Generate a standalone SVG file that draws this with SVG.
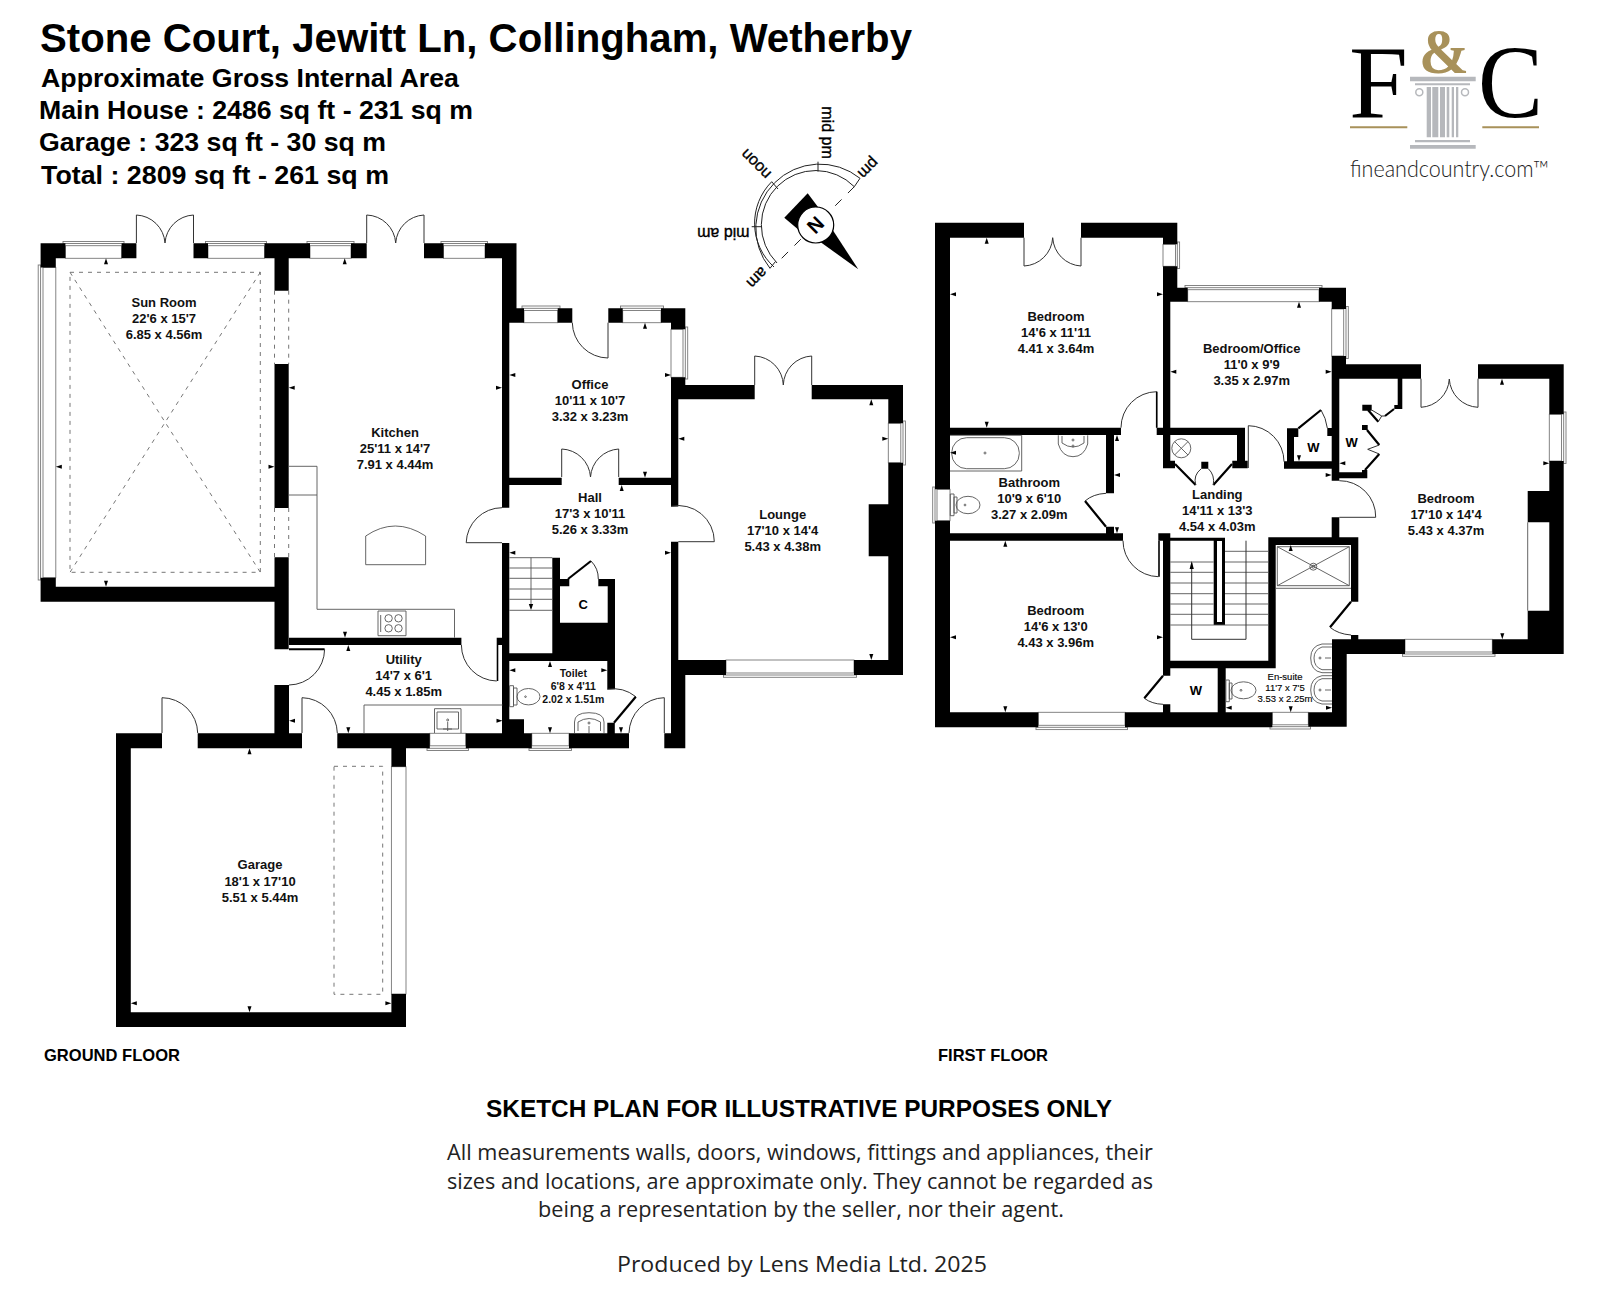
<svg xmlns="http://www.w3.org/2000/svg" width="1600" height="1297" viewBox="0 0 1600 1297">
<style>
text{font-family:"Liberation Sans",Arial,sans-serif;fill:#000}
.h{font-weight:700}
.r{font-size:13px;font-weight:700;text-anchor:middle;fill:#111}
.s{font-size:10.5px;font-weight:700;text-anchor:middle;fill:#111}
.e{font-size:9.5px;font-weight:400;text-anchor:middle;stroke:#111;stroke-width:.15}
.w{font-size:13px;font-weight:700;text-anchor:middle}
.b{font-family:"Open Sans","Noto Sans",sans-serif;font-size:22px;text-anchor:middle;fill:#222}
.c{font-size:16px;text-anchor:middle;stroke:#000;stroke-width:.35}
.wall{fill:#000}
.d{fill:none;stroke:#333;stroke-width:1}
.dk{fill:none;stroke:#000;stroke-width:2.2}
.f{fill:none;stroke:#555;stroke-width:.9}
.dash{fill:none;stroke:#666;stroke-width:.9;stroke-dasharray:4 5}
.win{fill:#fff;stroke:#777;stroke-width:.9}
.t{fill:#000}
.lg{fill:#b6b8bc}
.g{fill:#a8915a}
</style>
<defs>
<path id="tU" class="t" d="M0 0L-2 6H2Z"/>
<path id="tD" class="t" d="M0 0L-2 -6H2Z"/>
<path id="tL" class="t" d="M0 0L6 -2V2Z"/>
<path id="tR" class="t" d="M0 0L-6 -2V2Z"/>
</defs>
<rect width="1600" height="1297" fill="#fff"/>

<g id="heading">
<text class="h" x="40" y="52" font-size="40" textLength="872" lengthAdjust="spacingAndGlyphs">Stone Court, Jewitt Ln, Collingham, Wetherby</text>
<text class="h" x="41" y="87" font-size="26" textLength="418" lengthAdjust="spacingAndGlyphs">Approximate Gross Internal Area</text>
<text class="h" x="39" y="119" font-size="26" textLength="434" lengthAdjust="spacingAndGlyphs">Main House : 2486 sq ft - 231 sq m</text>
<text class="h" x="39" y="151" font-size="26" textLength="347" lengthAdjust="spacingAndGlyphs">Garage : 323 sq ft - 30 sq m</text>
<text class="h" x="41" y="184" font-size="26" textLength="348" lengthAdjust="spacingAndGlyphs">Total : 2809 sq ft - 261 sq m</text>
</g>

<g id="logo">
<text x="1349" y="117" font-size="104" style="font-family:'Liberation Serif',serif" textLength="59" lengthAdjust="spacingAndGlyphs">F</text>
<text x="1478" y="117" font-size="104" style="font-family:'Liberation Serif',serif" textLength="65" lengthAdjust="spacingAndGlyphs">C</text>
<text x="1419" y="73" font-size="64" font-weight="700" style="font-family:'Liberation Serif',serif;fill:#a8915a" textLength="50" lengthAdjust="spacingAndGlyphs">&amp;</text>
<path class="lg" d="M1410 76.7H1475.7V81.3H1410ZM1415 83.3H1470V85.3H1415ZM1426.7 87H1431V137.3H1426.7ZM1432.3 87H1438.3V137.3H1432.3ZM1440 87H1445V137.3H1440ZM1446.7 87H1449.3V137.3H1446.7ZM1451.7 87H1454V137.3H1451.7ZM1456 87H1458.3V137.3H1456ZM1415 140H1470V142.3H1415ZM1410 145H1475.7V148.7H1410Z"/>
<circle cx="1419.3" cy="92.3" r="3.5" fill="none" stroke="#b6b8bc" stroke-width="1.5"/>
<circle cx="1465" cy="92.3" r="3.5" fill="none" stroke="#b6b8bc" stroke-width="1.5"/>
<path class="g" d="M1350 126.3H1407.3V128.3H1350ZM1482.3 126.3H1539V128.3H1482.3Z"/>
<text x="1350" y="177" font-size="23" font-weight="300" style="font-family:Lato,sans-serif;fill:#222" textLength="199" lengthAdjust="spacingAndGlyphs">fineandcountry.com™</text>
</g>

<g id="compass">
<path d="M860 178.3A64 64 0 0 0 770 268.3L775.5 261.5M854.3 186.7A54 54 0 0 0 777 263" fill="none" stroke="#222" stroke-width="1"/>
<path d="M771.7 181.7A59 59 0 0 0 774 267" fill="none" stroke="#222" stroke-width="1"/>
<path d="M860 178.3L854.3 186.7M818 161.7V171.5M751.7 226.7H762M771.7 181.7L778 189" fill="none" stroke="#222" stroke-width="1"/>
<path d="M854.3 186.7L832 209M781.7 258.3L802 238" fill="none" stroke="#222" stroke-width="1" stroke-dasharray="9 9"/>
<path class="t" d="M784.3 217.7L807.7 193.3L821 211L800 231Z"/>
<path class="t" d="M832.7 230L820 241.7L858.3 269.3Z"/>
<circle cx="815.7" cy="225" r="18" fill="#fff" stroke="#000" stroke-width="1.2"/>
<text x="815.7" y="225" font-size="20" font-weight="700" text-anchor="middle" transform="rotate(135 815.7 225) translate(0 7)">N</text>
<text class="c" transform="translate(826.5 132.5) rotate(90) translate(0 5)">mid pm</text>
<text class="c" transform="translate(868.3 168) rotate(135) translate(0 5)">pm</text>
<text class="c" transform="translate(756 164) rotate(225) translate(0 5)">noon</text>
<text class="c" transform="translate(723.3 232.7) rotate(180) translate(0 5)">mid am</text>
<text class="c" transform="translate(757 277.5) rotate(135) translate(0 5)">am</text>
</g>

<g id="ground-floor">
<g id="gf-windows">
<rect class="win" x="63" y="241.5" width="61" height="2"/><rect class="win" x="65.4" y="245.7" width="56.2" height="12.6"/>
<rect class="win" x="205.5" y="241.5" width="61" height="2"/><rect class="win" x="208" y="245.7" width="56.5" height="12.6"/>
<rect class="win" x="307" y="241.5" width="47" height="2"/><rect class="win" x="310" y="245.7" width="41" height="12.6"/>
<rect class="win" x="441" y="241.5" width="46.5" height="2"/><rect class="win" x="443.5" y="245.7" width="41.5" height="12.6"/>
<rect class="win" x="38.2" y="265" width="2.4" height="315"/><rect class="win" x="43" y="267.5" width="12.8" height="310.2"/>
<rect class="win" x="522" y="306" width="38" height="2.3"/><rect class="win" x="524" y="310.5" width="33.7" height="12.2"/>
<rect class="win" x="620.5" y="306" width="43" height="2.3"/><rect class="win" x="622.7" y="310.5" width="38.3" height="12.2"/>
<rect class="win" x="685.3" y="327" width="2.4" height="52"/><rect class="win" x="671" y="329.3" width="12" height="48"/>
<rect class="win" x="903" y="421" width="2.4" height="44"/><rect class="win" x="888.3" y="423.3" width="12.5" height="39.4"/>
<rect class="win" x="723.5" y="675" width="133" height="2.3"/><rect class="win" x="726" y="660" width="128" height="13"/>
<rect class="win" x="427" y="748.3" width="41.5" height="2.2"/><rect class="win" x="429.8" y="733.3" width="36" height="12.5"/>
<rect class="win" x="529" y="748.3" width="42.5" height="2.2"/><rect class="win" x="531.8" y="733.3" width="37.2" height="12.5"/>
<rect class="win" x="391.4" y="766.7" width="14.6" height="227.3"/>
</g>
<path class="wall" d="M40.6 243.3H65.4V258.3H55.8V267.5H40.6ZM121.6 243.3H136.4V258.3H121.6ZM193.5 243.3H208V258.3H193.5ZM264.5 243.3H310V258.3H264.5ZM351 243.3H366.7V258.3H351ZM424 243.3H443.5V258.3H424ZM485 243.3H516.5V308.3H524V322.7H509.3V507.7H502V258.3H485ZM557.7 308.3H572.3V322.7H557.7ZM608.3 308.3H622.7V322.7H608.3ZM661 308.3H685.3V329.3H671V322.7H661ZM671 377.3H685.3V385H754.7V399.3H678.3V506.5H671ZM811.7 385H903V423.3H888.3V399.3H811.7ZM888.3 462.7H903V675H854V660H888.3V556.3H868.7V504.3H888.3ZM671 541.7H678.3V660H726V675H685.3V748.3H664.3V733.3H671ZM509.3 477.7H561.7V485H509.3ZM618.7 477.7H671V485H618.7ZM502 543H509.3V733.3H502ZM552.3 557.7H560V579H569.3V586.3H560V622.7H607.7V586.3H598.3V579H615V689.3H607.3V661H509.3V653.3H552.3ZM289 637.7H461.4V645H289ZM496.7 637.7H502V645H496.7ZM40.6 577.7H55.8V586.7H274.5V557.3H288.7V649.3H274.5V601.7H40.6ZM274.5 243.3H288.7V290.7H274.5ZM274.5 364H288.7V508H274.5ZM274.4 685H289V733.3H274.4ZM116 733.3H162V748.3H130.8V1012.3H391.4V994H406V1027H116ZM197.7 733.3H302V748.3H197.7ZM337.3 733.3H429.8V748.3H406V766.7H391.4V748.3H337.3ZM465.8 733.3H531.8V748.3H465.8ZM569 733.3H629V748.3H569ZM502.5 719.3H524V733.3H502.5ZM607.3 722.7H614.8V733.3H607.3Z"/>
<g id="gf-doors">
<path class="d" d="M136.4 243V215A30 30 0 0 1 165 243A30 30 0 0 1 193.5 215V243"/>
<path class="d" d="M366.7 243V215A30 30 0 0 1 395.7 243A30 30 0 0 1 424 215V243"/>
<path class="d" d="M608 322.7V358A36 36 0 0 1 572.3 322.7"/>
<path class="d" d="M754.7 385V356A30 30 0 0 1 783.3 385A30 30 0 0 1 811.7 356V385"/>
<path class="d" d="M561.7 477V449A30 30 0 0 1 590.5 477A30 30 0 0 1 618.7 449V477"/>
<path class="d" d="M502 507.7A36 36 0 0 0 466.2 542.7H502"/>
<path class="d" d="M671 506.3A36 36 0 0 1 714.3 541.7H678.3"/>
<path class="d" d="M461.4 645A36 36 0 0 0 496.7 681"/>
<path class="dk" style="stroke-width:1.6" d="M497.5 645V681"/>
<path class="dk" style="stroke-width:2" d="M289 649.3H324.6"/>
<path class="d" d="M324.6 649.3A36 36 0 0 1 289 685"/>
<path class="d" d="M302 733V697.7A36 36 0 0 1 337.3 733"/>
<path class="d" d="M162 733V697.7A36 36 0 0 1 197.7 733"/>
<path class="d" d="M664.3 733V697.7A36 36 0 0 0 629 733"/>
<path class="d" d="M607.3 689.3A36 36 0 0 1 635.8 696.7"/>
<path class="dk" d="M635.8 696.7L614 722.7"/>
<path class="dk" d="M568 579L591 561"/>
<path class="d" d="M591 561A25 25 0 0 1 598.3 579"/>
</g>
<g id="gf-fittings">
<path class="dash" d="M70 272.3H260.3V572.3H70ZM70 272.3L260.3 572.3M260.3 272.3L70 572.3"/>
<path class="dash" d="M274.5 290.7V364M288.7 290.7V364M274.5 508V557.3M288.7 508V557.3"/>
<path class="dash" d="M334 766.3H382.7V994.3H334Z"/>
<path class="f" d="M288.7 466.3H317V609.3H454.5V637.7M288.7 495H317"/>
<path class="f" d="M365.7 564.7V536Q395 516 425.6 536V564.7Z"/>
<path class="f" d="M378 611H406V635.7H378Z"/>
<circle class="f" cx="388.6" cy="618.3" r="3.7"/><circle class="f" cx="398.5" cy="618.3" r="3.7"/><circle class="f" cx="388.6" cy="628.3" r="3.7"/><circle class="f" cx="398.5" cy="628.3" r="3.7"/>
<path class="f" d="M380.7 615V632"/>
<path class="f" d="M364 733.3V705H502.5"/>
<path class="f" d="M434.5 733V708.7H461V733M437 712H458.5V729H437Z"/>
<circle class="f" cx="447.7" cy="720" r="1"/>
<path class="f" d="M447.7 722V731M443 729H452"/>
<path class="f" d="M509.6 685.7H513.5V706.7H509.6ZM513.5 688H517V705H513.5Z"/>
<ellipse class="f" cx="528.5" cy="696.7" rx="11.5" ry="8.2"/>
<circle class="f" cx="525.5" cy="696.7" r=".8"/>
<path class="f" d="M574.5 733V722Q574.5 712.7 589 712.7Q604 712.7 604 722V733M578 731V722Q589 715 600.5 722V731"/>
<circle class="f" cx="589" cy="723" r="1"/>
<path class="f" d="M589 726V733"/>
<path class="f" d="M509.3 568H552.3M509.3 578.3H552.3M509.3 589H552.3M509.3 599.3H552.3M509.3 610.3H552.3M509.3 557.7H552.3M531 557.7V608"/>
<path class="t" d="M531 610L528.8 604H533.2Z"/>
</g>
<g id="gf-ticks">
<use href="#tU" x="106" y="258.3"/><use href="#tU" x="344.7" y="258.3"/><use href="#tL" x="55.8" y="466.7"/><use href="#tR" x="274.5" y="466.7"/><use href="#tD" x="106" y="586.7"/><use href="#tL" x="288.7" y="387.7"/><use href="#tR" x="502" y="387.7"/>
<use href="#tL" x="509.3" y="375"/><use href="#tR" x="671" y="375"/><use href="#tU" x="645" y="322.7"/><use href="#tD" x="645" y="477.7"/><use href="#tU" x="621.7" y="485"/><use href="#tL" x="509.3" y="552.7"/><use href="#tR" x="671" y="552.7"/>
<use href="#tL" x="678.3" y="438.7"/><use href="#tR" x="888.3" y="438.7"/><use href="#tU" x="871.3" y="399.3"/><use href="#tD" x="871.3" y="660"/>
<use href="#tD" x="345" y="637.7"/><use href="#tU" x="348.3" y="645"/><use href="#tL" x="289" y="720.7"/><use href="#tR" x="502.5" y="720.7"/><use href="#tD" x="348.3" y="733.3"/>
<use href="#tU" x="550" y="661"/><use href="#tL" x="509.3" y="670.3"/><use href="#tR" x="607.3" y="670.3"/><use href="#tD" x="550" y="733.3"/><use href="#tD" x="621" y="733.3"/>
<use href="#tU" x="249.5" y="748.3"/><use href="#tL" x="130.8" y="1003.3"/><use href="#tR" x="391.4" y="1003.3"/><use href="#tD" x="249.5" y="1012.3"/>
</g>
<g id="gf-labels">
<text class="r" x="164" y="306.7">Sun Room</text><text class="r" x="164" y="323">22'6 x 15'7</text><text class="r" x="164" y="339">6.85 x 4.56m</text>
<text class="r" x="395" y="436.7">Kitchen</text><text class="r" x="395" y="452.7">25'11 x 14'7</text><text class="r" x="395" y="469">7.91 x 4.44m</text>
<text class="r" x="590" y="388.7">Office</text><text class="r" x="590" y="404.7">10'11 x 10'7</text><text class="r" x="590" y="420.7">3.32 x 3.23m</text>
<text class="r" x="590" y="502.3">Hall</text><text class="r" x="590" y="518">17'3 x 10'11</text><text class="r" x="590" y="534">5.26 x 3.33m</text>
<text class="r" x="782.7" y="518.7">Lounge</text><text class="r" x="782.7" y="534.7">17'10 x 14'4</text><text class="r" x="782.7" y="550.7">5.43 x 4.38m</text>
<text class="r" x="403.7" y="664.3">Utility</text><text class="r" x="403.7" y="680">14'7 x 6'1</text><text class="r" x="403.7" y="696">4.45 x 1.85m</text>
<text class="s" x="573.3" y="676.7">Toilet</text><text class="s" x="573.3" y="689.7">6'8 x 4'11</text><text class="s" x="573.3" y="702.7">2.02 x 1.51m</text>
<text class="w" x="583.3" y="609.3">C</text>
<text class="r" x="260" y="869.3">Garage</text><text class="r" x="260" y="885.7">18'1 x 17'10</text><text class="r" x="260" y="901.7">5.51 x 5.44m</text>
<text class="h" x="44" y="1061" font-size="16.5" textLength="136" lengthAdjust="spacingAndGlyphs">GROUND FLOOR</text>
</g>
</g>

<g id="first-floor">
<g id="ff-windows">
<rect class="win" x="1177.3" y="242" width="2.3" height="26.5"/><rect class="win" x="1163" y="244.3" width="12.5" height="22"/>
<rect class="win" x="1185" y="285.5" width="137" height="2.2"/><rect class="win" x="1187.7" y="289.7" width="131.3" height="12"/>
<rect class="win" x="1346" y="306.5" width="2.3" height="52"/><rect class="win" x="1331.7" y="309" width="12" height="47"/>
<rect class="win" x="1563.7" y="412" width="2.3" height="51.5"/><rect class="win" x="1549.3" y="414.3" width="12.2" height="46.7"/>
<rect class="win" x="932.7" y="487" width="2.3" height="36"/><rect class="win" x="937" y="489.3" width="13" height="31.4"/>
<rect class="win" x="1036" y="727.3" width="91.5" height="2.3"/><rect class="win" x="1038.3" y="712.3" width="86.7" height="13"/>
<rect class="win" x="1270" y="726.7" width="40.5" height="2.3"/><rect class="win" x="1272.3" y="712.3" width="36" height="12.5"/>
<rect class="win" x="1402.5" y="654" width="92.5" height="2.3"/><rect class="win" x="1405" y="639.3" width="87.3" height="12.7"/>
</g>
<path class="wall" d="M935 222.7H1024V237.7H950V489.3H935ZM1081 222.7H1177.3V244.3H1163V237.7H1081ZM935 520.7H950V712.3H1038.3V727.3H935ZM1125 712.3H1272.3V727.3H1125ZM1308.3 712.3H1332V639.3H1405V654H1346.7V726.7H1308.3ZM1163 266.3H1177.3V287.7H1187.7V301.7H1170.3V468.3H1163ZM1319 287.7H1346V309H1331.7V301.7H1319ZM1331.7 356H1346V364.3H1421V378.7H1339.3V480.7H1331.7ZM1478 364.3H1563.7V414.3H1549.3V378.7H1478ZM1549.3 461H1563.7V654H1492.3V639.3H1527.7V610.7H1549.3V522.3H1527.7V491H1549.3ZM950 427.7H1121V435H950ZM1156.7 427.7H1245V460.7H1247.7V468.3H1232.3V460.7H1237V435H1170.3V460.7H1175V468.3H1163V435H1156.7ZM1201.3 461.7H1208.3V468.7H1201.3ZM1287 428.3H1298.3V437H1294V461.3H1331.7V436H1327.3V428H1331.7V468.7H1284V461.3H1287ZM1106 435H1114V493.3H1106ZM1106 526.7H1114V533.3H1123V540.7H950V533.3H1106ZM1158.3 533.3H1170.3V537.7H1225V625H1213.7V540.7H1170.3V660.7H1268.3V537.3H1358.3V601.7H1351V545H1275.7V668.3H1225.7V712.3H1217.7V668.3H1170.3V675.7H1163V540.7H1158.3ZM1163 704.3H1170.3V712.3H1163ZM1351 635H1358.3V639.3H1351ZM1331.7 517.3H1339.3V537.3H1331.7ZM1339.3 472.3H1367.3V478.3H1339.3ZM1397.7 378.7H1402.3V409H1394.3V405H1397.7ZM1362.3 404.7H1371.7V410.7H1362.3ZM1362 425H1367.7V430H1362ZM1362 470H1367.3V472.3H1362Z"/>
<rect x="1217" y="541" width="5" height="81" fill="#fff"/>
<g id="ff-doors">
<path class="d" d="M1024 237.7V266A30 30 0 0 0 1052.7 237.7A30 30 0 0 0 1081 266V237.7"/>
<path class="d" d="M1421 378.7V407.3A30 30 0 0 0 1449.3 379A30 30 0 0 0 1478 407.3V378.7"/>
<path class="d" d="M1156.7 427.7V391.7A36 36 0 0 0 1121 427.7"/>
<path class="d" d="M1123 540.7A36 36 0 0 0 1158.3 576.7"/>
<path class="dk" style="stroke-width:1.6" d="M1159 540.7V576.7"/>
<path class="dk" style="stroke-width:1.6" d="M1156.7 391.7V427.7"/>
<path class="d" d="M1248.3 468V425.7A36 36 0 0 1 1284 461.7"/>
<path class="d" d="M1339.3 480.7A36 36 0 0 1 1375.7 517.3H1339.3"/>
<path class="dk" d="M1175 464L1195.7 485M1232 464L1213.3 485M1298.3 428.3L1321 410M1106 526.7L1085 501M1163 675.7L1144.3 698.3M1351 601.7L1330 627.3"/>
<path class="d" d="M1195.7 485Q1193 475 1201.3 468.7M1213.3 485Q1215 475 1208.3 468.7M1321 410Q1326 418 1327.3 428M1085 501Q1093 494 1106 493.3M1144.3 698.3Q1152 704 1163 704.3M1330 627.3Q1338 634 1351 635"/>
<path class="dk" d="M1368 410L1378.3 421.7M1394 409L1385 416M1367 430L1379.3 445M1379.3 454L1365 470"/>
<path class="d" d="M1371.7 410L1381.7 416L1385 416M1378.3 421.7L1381.7 416M1379.3 445L1367.7 449.3L1379.3 454"/>
</g>
<g id="ff-fittings">
<path class="f" d="M950 435.3H1021.7V471H950"/>
<rect class="f" x="951.7" y="437.7" width="67.6" height="31" rx="15"/>
<circle class="f" cx="985" cy="453" r="1"/>
<path class="f" d="M1058.3 435.3V444Q1062 456.7 1073 456.7Q1084 456.7 1087.7 444V435.3M1062 436V443Q1073 451 1084 443V436"/>
<circle class="f" cx="1073" cy="440" r="1"/><circle class="f" cx="1073" cy="446" r="1"/>
<path class="f" d="M950.3 494H954V515.7H950.3ZM954 497H957V513H954Z"/>
<ellipse class="f" cx="968" cy="505" rx="12" ry="8.7"/><circle class="f" cx="965" cy="505" r=".9"/>
<circle class="f" cx="1181.3" cy="448.3" r="9.5"/>
<path class="f" d="M1174.6 441.6L1188 455M1188 441.6L1174.6 455"/>
<path class="f" d="M1170.3 562H1213.7M1170.3 572.3H1213.7M1170.3 583H1213.7M1170.3 593.7H1213.7M1170.3 604H1213.7M1170.3 614.3H1213.7M1170.3 625H1268.3M1225 551.3H1268.3M1225 562H1268.3M1225 572.3H1268.3M1225 583H1268.3M1225 593.7H1268.3M1225 604H1268.3M1225 614.3H1268.3"/>
<path class="d" d="M1191.7 563V639.3H1246V540.7"/>
<path class="t" d="M1191.7 561L1189.6 569H1193.8Z"/>
<path class="f" d="M1277.3 546.7H1349.3V585.7H1277.3ZM1277.3 546.7L1349.3 585.7M1349.3 546.7L1277.3 585.7M1275.7 588.3H1351"/>
<circle class="f" cx="1313.3" cy="566.7" r="3.5"/><circle class="f" cx="1313.3" cy="566.7" r="1.5"/>
<path class="f" d="M1332 644H1322Q1310.7 646 1310.7 658Q1310.7 671 1322 672.7H1332M1332 647H1322Q1314 650 1314 658Q1314 667 1322 669.7H1332"/>
<path class="f" d="M1332 675.7H1322Q1310.7 678 1310.7 690Q1310.7 702 1322 704H1332M1332 678.7H1322Q1314 681 1314 690Q1314 699 1322 701H1332"/>
<circle class="f" cx="1320" cy="658" r="1"/><circle class="f" cx="1320" cy="690" r="1"/>
<path class="f" d="M1325 658H1331M1325 690H1331"/>
<path class="f" d="M1225.9 680H1229.3V701.7H1225.9ZM1229.3 683H1232V699H1229.3Z"/>
<ellipse class="f" cx="1243.5" cy="690.3" rx="12.5" ry="8.5"/><circle class="f" cx="1241" cy="690.3" r=".9"/>
<path class="f" d="M1527.7 522.3V610.7"/>
</g>
<g id="ff-ticks">
<use href="#tU" x="986.7" y="237.7"/><use href="#tL" x="950" y="294.3"/><use href="#tR" x="1163" y="294.3"/><use href="#tD" x="986.7" y="427.7"/><use href="#tU" x="1299" y="301.7"/><use href="#tL" x="1170.3" y="371.7"/><use href="#tR" x="1331.7" y="371.7"/>
<use href="#tL" x="950" y="452.7"/><use href="#tU" x="1117" y="435"/><use href="#tL" x="1114" y="475"/><use href="#tD" x="1117" y="533.3"/><use href="#tU" x="1005.3" y="540.7"/><use href="#tD" x="1299" y="461.3"/>
<use href="#tL" x="1339.3" y="463.3"/><use href="#tR" x="1331.7" y="475"/><use href="#tU" x="1502" y="378.7"/><use href="#tR" x="1549.3" y="463.3"/><use href="#tD" x="1502.3" y="639.3"/>
<use href="#tD" x="1005.3" y="712.3"/><use href="#tL" x="950" y="637.3"/><use href="#tR" x="1163" y="637.3"/><use href="#tU" x="1290.7" y="545"/><use href="#tL" x="1225.7" y="707.7"/><use href="#tR" x="1332" y="707.7"/><use href="#tD" x="1290.7" y="712.3"/>
</g>
<g id="ff-labels">
<text class="r" x="1056" y="321">Bedroom</text><text class="r" x="1056" y="337">14'6 x 11'11</text><text class="r" x="1056" y="353">4.41 x 3.64m</text>
<text class="r" x="1251.7" y="353.3">Bedroom/Office</text><text class="r" x="1251.7" y="369">11'0 x 9'9</text><text class="r" x="1251.7" y="385">3.35 x 2.97m</text>
<text class="r" x="1029.3" y="487.3">Bathroom</text><text class="r" x="1029.3" y="503.3">10'9 x 6'10</text><text class="r" x="1029.3" y="519.3">3.27 x 2.09m</text>
<text class="r" x="1217.3" y="499.3">Landing</text><text class="r" x="1217.3" y="515.3">14'11 x 13'3</text><text class="r" x="1217.3" y="531.3">4.54 x 4.03m</text>
<text class="r" x="1055.7" y="615">Bedroom</text><text class="r" x="1055.7" y="631">14'6 x 13'0</text><text class="r" x="1055.7" y="647">4.43 x 3.96m</text>
<text class="r" x="1446" y="502.7">Bedroom</text><text class="r" x="1446" y="518.7">17'10 x 14'4</text><text class="r" x="1446" y="534.7">5.43 x 4.37m</text>
<text class="e" x="1285" y="679.7">En-suite</text><text class="e" x="1285" y="690.7">11'7 x 7'5</text><text class="e" x="1285" y="701.7">3.53 x 2.25m</text>
<text class="w" x="1313.3" y="452.3">W</text><text class="w" x="1351.7" y="447.3">W</text><text class="w" x="1196" y="695">W</text>
<text class="h" x="938" y="1061" font-size="16.5" textLength="110" lengthAdjust="spacingAndGlyphs">FIRST FLOOR</text>
</g>
</g>

<g id="notes">
<text class="h" x="486" y="1117" font-size="23" textLength="626" lengthAdjust="spacingAndGlyphs">SKETCH PLAN FOR ILLUSTRATIVE PURPOSES ONLY</text>
<text class="b" x="800" y="1160" textLength="706" lengthAdjust="spacingAndGlyphs">All measurements walls, doors, windows, fittings and appliances, their</text>
<text class="b" x="800" y="1189" textLength="706" lengthAdjust="spacingAndGlyphs">sizes and locations, are approximate only. They cannot be regarded as</text>
<text class="b" x="801" y="1216.5" textLength="526" lengthAdjust="spacingAndGlyphs">being a representation by the seller, nor their agent.</text>
<text class="b" x="802" y="1272" textLength="370" lengthAdjust="spacingAndGlyphs">Produced by Lens Media Ltd. 2025</text>
</g>
</svg>
